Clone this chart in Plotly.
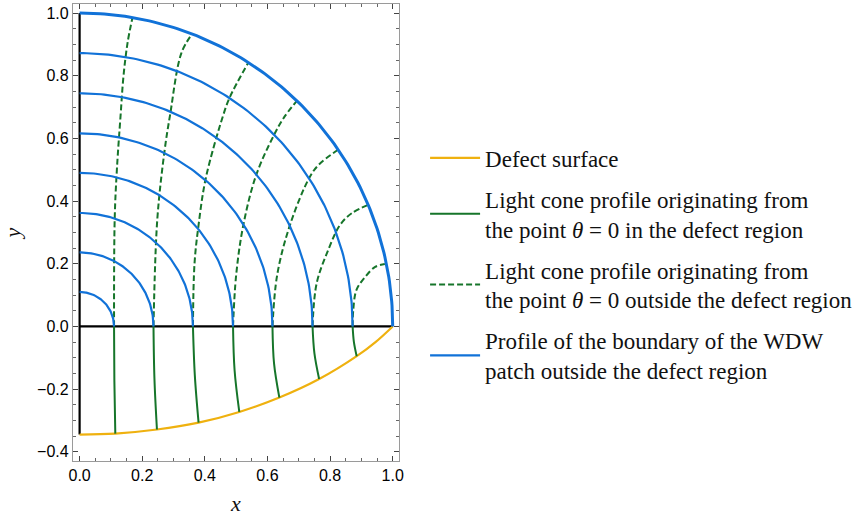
import numpy as np
import plotly.graph_objects as go

# Radii of the WDW-patch boundary profiles (quarter arcs centred on the origin)
wdw_radii = [0.110, 0.236, 0.362, 0.490, 0.616, 0.744, 0.872, 1.000]

# Defect surface
defect_x = [0.0, 0.114, 0.247, 0.380, 0.510, 0.638, 0.765, 0.885, 0.945, 1.0]
defect_y = [-0.345, -0.342, -0.329, -0.307, -0.273, -0.227, -0.168, -0.095, -0.050, 0.0]

# Light-cone profiles inside the defect region (below y = 0)
inside_x = [
    [0.110, 0.111, 0.114],
    [0.236, 0.239, 0.247],
    [0.362, 0.368, 0.380],
    [0.490, 0.495, 0.510],
    [0.616, 0.621, 0.638],
    [0.744, 0.750, 0.765],
    [0.872, 0.876, 0.885],
]
inside_y = [
    [0.0, -0.172, -0.342],
    [0.0, -0.166, -0.329],
    [0.0, -0.156, -0.307],
    [0.0, -0.140, -0.273],
    [0.0, -0.118, -0.227],
    [0.0, -0.086, -0.168],
    [0.0, -0.049, -0.095],
]

# Light-cone profiles outside the defect region (above y = 0)
outside_x = [
    [0.110, 0.112, 0.119, 0.131, 0.140, 0.153, 0.169],
    [0.236, 0.248, 0.271, 0.289, 0.325, 0.359],
    [0.362, 0.367, 0.380, 0.403, 0.459, 0.481, 0.539],
    [0.490, 0.500, 0.523, 0.564, 0.621, 0.653, 0.694],
    [0.616, 0.631, 0.672, 0.733, 0.763, 0.826],
    [0.744, 0.757, 0.794, 0.832, 0.869, 0.922],
    [0.872, 0.874, 0.884, 0.912, 0.944, 0.975],
]
outside_y = [
    [0.0, 0.340, 0.500, 0.675, 0.797, 0.904, 0.986],
    [0.0, 0.340, 0.558, 0.675, 0.872, 0.933],
    [0.0, 0.200, 0.324, 0.473, 0.675, 0.734, 0.842],
    [0.0, 0.164, 0.324, 0.483, 0.611, 0.667, 0.720],
    [0.0, 0.164, 0.324, 0.473, 0.515, 0.564],
    [0.0, 0.137, 0.244, 0.324, 0.361, 0.388],
    [0.0, 0.052, 0.116, 0.158, 0.190, 0.199],
]

legend_labels = [
    "Defect surface",
    "Light cone profile originating from<br>the point <i>θ</i> = 0 in the defect region",
    "Light cone profile originating from<br>the point <i>θ</i> = 0 outside the defect region",
    "Profile of the boundary of the WDW<br>patch outside the defect region",
]

ORANGE = "#efb10f"
GREEN = "#16752a"
BLUE = "#1172d8"
SERIF = "Liberation Serif"


def joined(xs_list, ys_list):
    """Concatenate several polylines into one trace separated by gaps."""
    xs, ys = [], []
    for a, b in zip(xs_list, ys_list):
        xs += list(a) + [None]
        ys += list(b) + [None]
    return xs, ys


fig = go.Figure()

# Coordinate axes of the construction
fig.add_trace(go.Scatter(x=[0, 1], y=[0, 0], mode="lines",
                         line=dict(color="black", width=2.2), showlegend=False,
                         hoverinfo="skip"))
fig.add_trace(go.Scatter(x=[0, 0], y=[defect_y[0], 1], mode="lines",
                         line=dict(color="black", width=2.2), showlegend=False,
                         hoverinfo="skip"))

fig.add_trace(go.Scatter(x=defect_x, y=defect_y, mode="lines", name=legend_labels[0],
                         line=dict(color=ORANGE, width=2.2, shape="spline"),
                         legendgroup="a"))

ix, iy = joined(inside_x, inside_y)
fig.add_trace(go.Scatter(x=ix, y=iy, mode="lines", name=legend_labels[1],
                         line=dict(color=GREEN, width=2, shape="spline"),
                         legendgroup="b"))

ox, oy = joined(outside_x, outside_y)
fig.add_trace(go.Scatter(x=ox, y=oy, mode="lines", name=legend_labels[2],
                         line=dict(color=GREEN, width=2, dash="6px,3px", shape="spline"),
                         legendgroup="c"))

# Quarter arcs of each boundary profile
t = np.linspace(0, np.pi / 2, 120)
arc_x = [r * np.cos(t) for r in wdw_radii]
arc_y = [r * np.sin(t) for r in wdw_radii]
bx, by = joined(arc_x[:-1], arc_y[:-1])
fig.add_trace(go.Scatter(x=bx, y=by, mode="lines", name=legend_labels[3],
                         line=dict(color=BLUE, width=2.2), legendgroup="d"))
fig.add_trace(go.Scatter(x=arc_x[-1], y=arc_y[-1], mode="lines",
                         line=dict(color=BLUE, width=3), legendgroup="d",
                         showlegend=False))

axis_common = dict(
    showgrid=False, zeroline=False, showline=True, linecolor="#9a9a9a", linewidth=1.2,
    mirror="allticks", ticks="inside", ticklen=5, tickwidth=1, tickcolor="#444",
    tickmode="linear", tick0=0, dtick=0.2, tickformat=".1f",
    tickfont=dict(family="Liberation Sans", size=16, color="#000"),
    minor=dict(ticks="inside", ticklen=2.5, tickwidth=1, tickcolor="#666",
               dtick=0.05, tick0=0, showgrid=False),
)

fig.update_xaxes(range=[-0.0211, 1.0201],
                 title=dict(text="<i>x</i>", font=dict(family=SERIF, size=22, color="#111"),
                            standoff=12),
                 **axis_common)
fig.update_yaxes(range=[-0.4294, 1.0288],
                 title=dict(text="<i>y</i>", font=dict(family=SERIF, size=22, color="#111"),
                            standoff=12),
                 **axis_common)

fig.update_layout(
    width=862, height=517, autosize=False,
    margin=dict(l=73, r=463, t=4, b=56),
    plot_bgcolor="white", paper_bgcolor="white",
    legend=dict(
        x=1.08, xanchor="left", y=0.43, yanchor="middle",
        font=dict(family=SERIF, size=23, color="#111"),
        itemwidth=50, valign="middle", tracegroupgap=8,
        traceorder="grouped", bgcolor="rgba(0,0,0,0)",
    ),
)

fig.write_html("out.html")
